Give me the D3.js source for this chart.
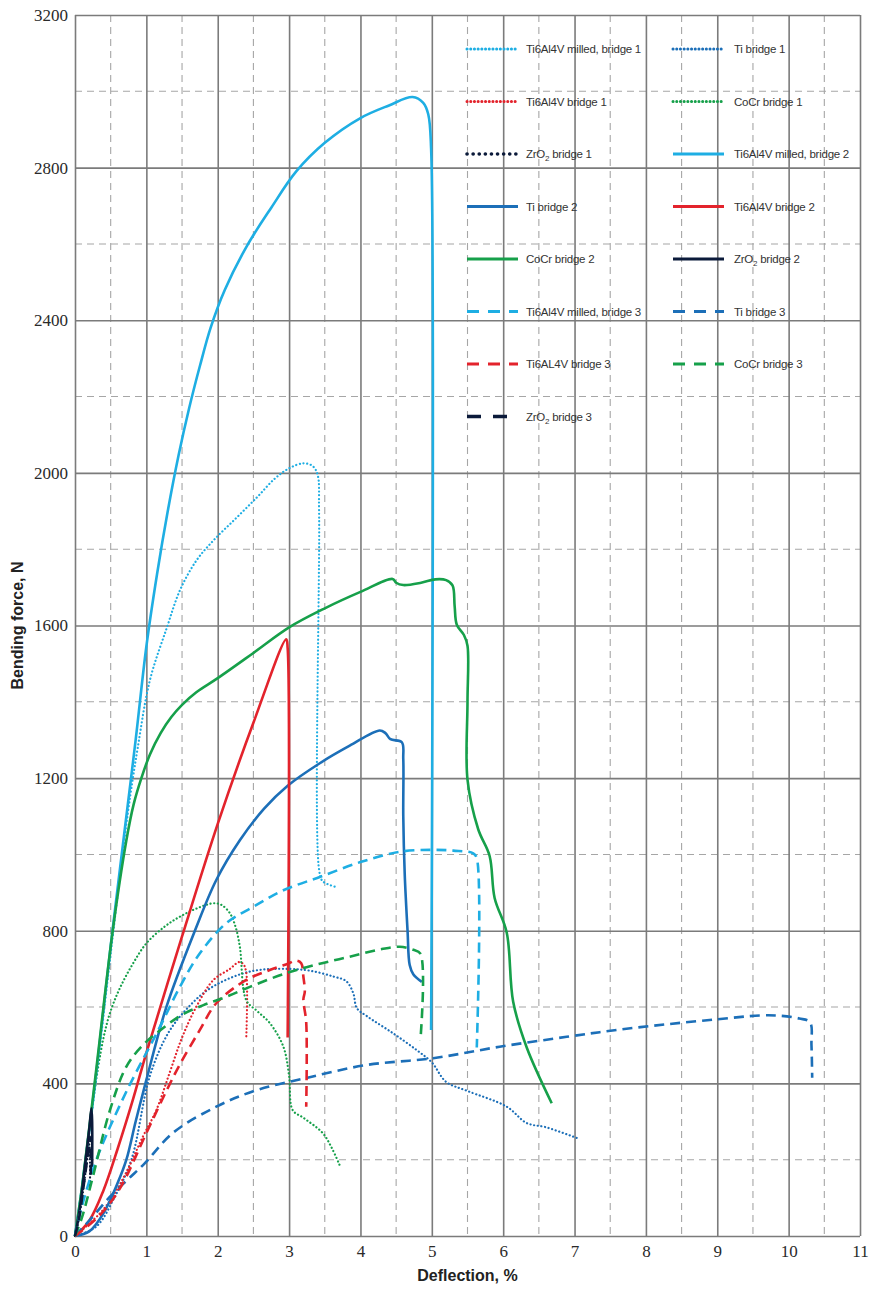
<!DOCTYPE html>
<html>
<head>
<meta charset="utf-8">
<script src="https://cdn.jsdelivr.net/npm/d3@7"></script>
<style>
  body { margin: 0; background: #fff; }
  svg { display: block; }
</style>
</head>
<body>
<div id="chart"><svg width="874" height="1289"></svg></div>
<script>
// x tick values / y tick values
const X_TICKS = [0, 1, 2, 3, 4, 5, 6, 7, 8, 9, 10, 11];
const Y_TICKS = [0, 400, 800, 1200, 1600, 2000, 2400, 2800, 3200];

// [deflection %, force N]
const milled1 = [[0,0],[0.15,200],[0.3,420],[0.5,740],[0.74,1108],[0.88,1281],[1.05,1457],[1.29,1596],[1.47,1692],[1.7,1770],[1.94,1823],[2.25,1880],[2.55,1936],[2.8,1985],[3.0,2012],[3.2,2025],[3.33,2018],[3.4,1995],[3.42,1900],[3.42,960],[3.47,930],[3.67,914]];
const ti1 = [[0,0],[0.3,25],[0.55,100],[0.79,200],[1.05,420],[1.3,530],[1.55,592],[1.9,650],[2.45,693],[3.0,700],[3.3,695],[3.62,680],[3.8,668],[3.9,636],[3.95,597],[4.1,575],[4.46,531],[4.79,487],[5.0,455],[5.2,404],[5.5,380],[6.05,339],[6.33,296],[6.6,285],[7.03,257]];
const ti6al4v1 = [[0,0],[0.4,70],[0.7,160],[0.95,260],[1.14,330],[1.33,430],[1.5,520],[1.7,601],[1.94,671],[2.17,700],[2.3,718],[2.36,712],[2.4,690],[2.4,520]];
const cocr1 = [[0,0],[0.1,120],[0.25,350],[0.4,520],[0.5,590],[0.63,650],[0.8,710],[1.0,767],[1.25,810],[1.47,837],[1.7,858],[1.94,872],[2.05,868],[2.17,846],[2.25,810],[2.31,758],[2.4,618],[2.55,590],[2.73,558],[2.92,496],[3.0,420],[3.05,330],[3.2,310],[3.47,270],[3.6,230],[3.71,185]];
const zro21 = [[0,0],[0.05,40],[0.1,100],[0.15,170],[0.2,240],[0.21,200],[0.21,130]];

const milled2 = [[0,0],[0.1,130],[0.3,430],[0.5,760],[0.7,1070],[0.85,1300],[1.0,1545],[1.15,1735],[1.3,1900],[1.45,2045],[1.6,2170],[1.75,2280],[1.9,2380],[2.1,2480],[2.41,2595],[2.75,2695],[3.1,2790],[3.5,2865],[4.0,2930],[4.4,2963],[4.73,2985],[4.88,2970],[4.95,2940],[4.99,2850],[4.99,540]];
const ti2 = [[0,0],[0.2,12],[0.4,60],[0.6,140],[0.72,200],[0.85,300],[1.0,409],[1.28,600],[1.68,800],[1.98,933],[2.31,1037],[2.65,1120],[2.98,1180],[3.43,1239],[3.85,1285],[4.27,1325],[4.35,1318],[4.42,1302],[4.58,1294],[4.6,1250],[4.6,1100],[4.62,950],[4.66,800],[4.69,710],[4.74,686],[4.86,666]];
const ti6al4v2 = [[0,0],[0.2,40],[0.4,120],[0.6,230],[0.8,350],[1.0,480],[1.5,785],[2.0,1080],[2.5,1345],[2.96,1564],[2.98,1540],[2.98,520]];
const cocr2 = [[0,0],[0.1,130],[0.3,440],[0.53,802],[0.72,1037],[0.82,1130],[0.93,1200],[1.05,1262],[1.2,1318],[1.35,1360],[1.5,1392],[1.7,1425],[2.0,1462],[2.5,1528],[3.0,1595],[3.5,1645],[4.0,1688],[4.45,1722],[4.5,1712],[4.6,1706],[4.85,1712],[5.05,1721],[5.2,1719],[5.29,1705],[5.32,1650],[5.35,1602],[5.45,1575],[5.5,1547],[5.5,1400],[5.5,1196],[5.65,1066],[5.81,996],[5.88,886],[6.05,795],[6.14,614],[6.33,494],[6.68,348]];
const zro22 = [[0,0],[0.05,50],[0.1,120],[0.15,200],[0.2,280],[0.23,335],[0.24,300],[0.24,180]];

const milled3 = [[0,0],[0.1,80],[0.3,200],[0.5,290],[0.75,390],[1.0,480],[1.19,548],[1.47,653],[1.75,741],[2.12,820],[2.5,863],[2.92,906],[3.43,941],[4.0,980],[4.55,1007],[5.0,1012],[5.3,1010],[5.58,1003],[5.63,990],[5.63,494]];
const ti3 = [[0,0],[0.25,51],[0.49,103],[0.75,150],[0.98,191],[1.37,270],[1.98,339],[2.54,382],[3.24,414],[4.08,448],[5.02,466],[5.95,496],[6.89,522],[7.59,540],[8.3,555],[9.0,568],[9.6,578],[9.9,577],[10.15,570],[10.3,560],[10.32,500],[10.33,415]];
const ti6al4v3 = [[0,0],[0.35,55],[0.63,125],[1.0,270],[1.28,380],[1.47,450],[1.75,540],[1.98,610],[2.4,671],[2.73,697],[3.0,715],[3.1,722],[3.17,715],[3.2,680],[3.22,640],[3.2,620],[3.24,560],[3.24,339]];
const cocr3 = [[0,0],[0.1,50],[0.25,155],[0.49,330],[0.72,444],[0.95,500],[1.2,540],[1.5,580],[1.8,605],[2.12,627],[2.45,653],[2.96,689],[3.4,712],[3.85,732],[4.3,752],[4.55,758],[4.74,750],[4.84,740],[4.84,513]];
const zro23 = [[0,0],[0.06,50],[0.12,130],[0.17,200],[0.21,260],[0.22,150]];

const SERIES_NAMES = [
  'Ti6Al4V milled, bridge 1', 'Ti bridge 1', 'Ti6Al4V bridge 1', 'CoCr bridge 1', 'ZrO2 bridge 1',
  'Ti6Al4V milled, bridge 2', 'Ti bridge 2', 'Ti6Al4V bridge 2', 'CoCr bridge 2', 'ZrO2 bridge 2',
  'Ti6Al4V milled, bridge 3', 'Ti bridge 3', 'Ti6AL4V bridge 3', 'CoCr bridge 3', 'ZrO2 bridge 3'
];
const SERIES_DATA = [milled1, ti1, ti6al4v1, cocr1, zro21, milled2, ti2, ti6al4v2, cocr2, zro22, milled3, ti3, ti6al4v3, cocr3, zro23];

// styling
const MATERIAL_COLORS = ['#1eaee3', '#1c6fb8', '#e3232c', '#16a04a', '#0b1a3a'];
const BRIDGE_STYLE = [
  { width: 2.2, dash: '0.1,3.6', cap: 'round' },
  { width: 2.6, dash: null, cap: 'butt' },
  { width: 2.6, dash: '10,6', cap: 'butt' }
];

const SVG = d3.select('#chart svg');
const LEFT = 75, RIGHT = 860, TOP = 15, BOTTOM = 1236;

const X_SCALE = d3.scaleLinear().domain([0, 11]).range([LEFT, RIGHT]);
const Y_SCALE = d3.scaleLinear().domain([0, 3200]).range([BOTTOM, TOP]);

// minor (dashed) grid
const GRID = SVG.append('g').attr('id', 'grid');
GRID.selectAll('line.vminor')
  .data(d3.range(0.5, 11, 1))
  .join('line')
  .attr('x1', d => X_SCALE(d)).attr('x2', d => X_SCALE(d))
  .attr('y1', TOP).attr('y2', BOTTOM)
  .style('stroke', '#a6a6a6').style('stroke-width', 1.1).style('stroke-dasharray', '7,5');
GRID.selectAll('line.hminor')
  .data(d3.range(200, 3200, 400))
  .join('line')
  .attr('x1', LEFT).attr('x2', RIGHT)
  .attr('y1', d => Y_SCALE(d)).attr('y2', d => Y_SCALE(d))
  .style('stroke', '#a6a6a6').style('stroke-width', 1.1).style('stroke-dasharray', '7,5');

// major grid through axes
const X_AXIS = d3.axisBottom(X_SCALE).tickValues(X_TICKS).tickSize(-(BOTTOM - TOP)).tickPadding(9).tickFormat(d3.format('d'));
const X_AXIS_G = SVG.append('g').attr('id', 'xAxis').attr('transform', `translate(0,${BOTTOM})`);
X_AXIS(X_AXIS_G);
const Y_AXIS = d3.axisLeft(Y_SCALE).tickValues(Y_TICKS).tickSize(-(RIGHT - LEFT)).tickPadding(7).tickFormat(d3.format('d'));
const Y_AXIS_G = SVG.append('g').attr('id', 'yAxis').attr('transform', `translate(${LEFT},0)`);
Y_AXIS(Y_AXIS_G);

SVG.selectAll('#xAxis .domain, #yAxis .domain').remove();
SVG.selectAll('#xAxis .tick line, #yAxis .tick line')
  .style('stroke', '#7b7b7b').style('stroke-width', 1.6);
SVG.selectAll('#xAxis text, #yAxis text')
  .style('font-family', '"Liberation Serif", "DejaVu Serif", serif')
  .style('font-size', '17px')
  .style('fill', '#2a2a2a');

// curves
const LINE = d3.line()
  .x(d => X_SCALE(d[0]))
  .y(d => Y_SCALE(d[1]))
  .curve(d3.curveCatmullRom.alpha(0.5));

SVG.append('g').attr('id', 'curves')
  .selectAll('path')
  .data(SERIES_DATA)
  .join('path')
  .attr('d', d => LINE(d))
  .style('fill', 'none')
  .style('stroke', (d, i) => MATERIAL_COLORS[i % 5])
  .style('stroke-width', (d, i) => BRIDGE_STYLE[Math.floor(i / 5)].width)
  .style('stroke-dasharray', (d, i) => BRIDGE_STYLE[Math.floor(i / 5)].dash)
  .style('stroke-linecap', (d, i) => BRIDGE_STYLE[Math.floor(i / 5)].cap)
  .style('stroke-linejoin', 'round');

// legend: two columns, row by row
const LEG = SVG.append('g').attr('id', 'legend');
SERIES_NAMES.forEach((name, i) => {
  const col = i % 2;
  const row = Math.floor(i / 2);
  const x0 = col === 0 ? 467 : 673;
  const y0 = 49 + row * 52.5;
  const style = BRIDGE_STYLE[Math.floor(i / 5)];
  const isZr = (i % 5) === 4;
  const dash = style.dash === null ? null
    : (style.cap === 'round' ? (isZr ? '0.1,6' : '0.1,3.6') : (isZr ? '14,12' : '12,9'));
  LEG.append('line')
    .attr('x1', x0).attr('x2', x0 + 51)
    .attr('y1', y0).attr('y2', y0)
    .style('stroke', MATERIAL_COLORS[i % 5])
    .style('stroke-width', isZr && style.dash ? 3.6 : 3)
    .style('stroke-dasharray', dash)
    .style('stroke-linecap', style.cap);
  const t = LEG.append('text')
    .attr('x', x0 + 59 + (col === 1 ? 2 : 0))
    .attr('y', y0 + 4)
    .style('font-family', '"Liberation Sans", Arial, sans-serif')
    .style('font-size', '11.5px')
    .style('letter-spacing', '-0.25px')
    .style('fill', '#333');
  if (name.startsWith('ZrO2')) {
    t.append('tspan').text('ZrO');
    t.append('tspan').text('2').attr('dy', 3).style('font-size', '8px');
    t.append('tspan').text(name.slice(4)).attr('dy', -3);
  } else {
    t.text(name);
  }
});

// axis titles
SVG.append('text')
  .attr('transform', `translate(23,${(TOP + BOTTOM) / 2}) rotate(-90)`)
  .attr('text-anchor', 'middle')
  .style('font-family', '"Liberation Sans", Arial, sans-serif')
  .style('font-weight', 'bold')
  .style('font-size', '16px')
  .style('fill', '#222')
  .text('Bending force, N');

SVG.append('text')
  .attr('x', (LEFT + RIGHT) / 2)
  .attr('y', 1281)
  .attr('text-anchor', 'middle')
  .style('font-family', '"Liberation Sans", Arial, sans-serif')
  .style('font-weight', 'bold')
  .style('font-size', '16px')
  .style('fill', '#222')
  .text('Deflection, %');
</script>
</body>
</html>
